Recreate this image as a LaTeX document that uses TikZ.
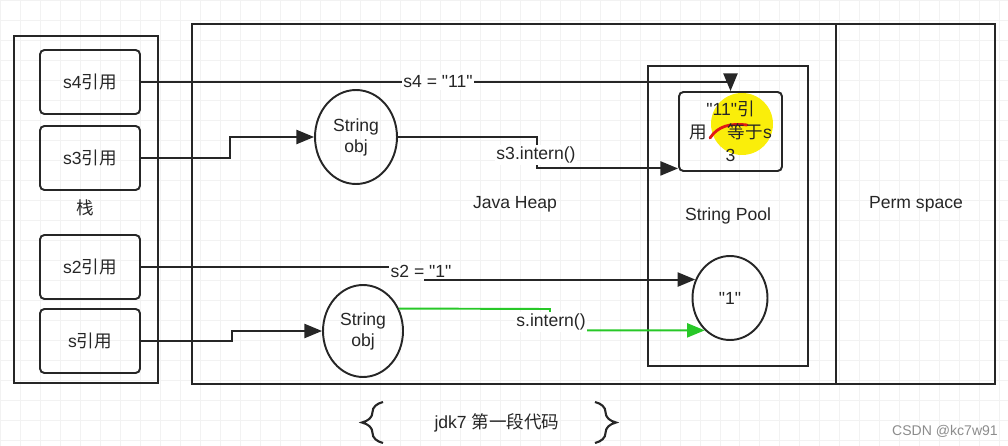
\documentclass[tikz,border=0pt]{standalone}
\usepackage{fontspec}
\setmainfont{Liberation Sans}[Ligatures=TeXOff]
\newfontfamily\cjk{Noto Sans CJK SC}
\usetikzlibrary{arrows.meta,shapes.geometric,decorations.pathreplacing}
\definecolor{hl}{RGB}{250,238,10}
\definecolor{pen}{RGB}{225,25,20}
\definecolor{grn}{RGB}{40,200,40}

\begin{document}
\begin{tikzpicture}[x=0.02cm, y=-0.02cm, line width=1.1pt, color=black!85,
    font=\fontsize{10}{12}\selectfont,
    cell/.style={draw, rounded corners=2.5pt, minimum width=2cm, minimum height=1.28cm},
    obj/.style={draw, ellipse, align=center, inner sep=0pt},
    arr/.style={-{Triangle[length=10pt,width=8pt]}},
    lbl/.style={fill=white, inner sep=1pt}]
			%%%%% START %%%%%
			\useasboundingbox (0,0) rectangle (1008,446);
			\draw[black!5, line width=0.4pt, step=0.4cm] (0,0) grid (1008,446);
			
			% stack, heap, perm space, pool
			\draw[line width=1.3pt] (14,36) rectangle (158,383);
			\draw (192,24) rectangle (836,384);
			\draw (836,24) rectangle (995,384);
			\draw (648,66) rectangle (808,366);
			
			\node (stk) at (85,208) {\cjk 栈};
			\node (heap) at (515,204) {Java Heap};
			\node (pool) at (728,216) {String Pool};
			\node (perm) at (916,204) {Perm space};
			
			\node[cell] (r4) at (90,82) {s4{\cjk 引用}};
			\node[cell] (r3) at (90,158) {s3{\cjk 引用}};
			\node[cell] (r2) at (90,267) {s2{\cjk 引用}};
			\node[cell] (r1) at (90,341) {s{\cjk 引用}};
			
			\node[obj, minimum width=1.64cm, minimum height=1.88cm] (obj3) at (356,137) {String\\obj};
			\node[obj, minimum width=1.6cm, minimum height=1.84cm] (objs) at (363,331) {String\\obj};
			
			% highlight on the pool entry
			\fill[hl] (742,124) circle (31);
			\draw[pen, line width=1.6pt, line cap=round] (710,138) .. controls (718,126) and (730,123) .. (747,125);
			
			\node[cell, minimum width=2.06cm, minimum height=1.58cm, align=center, inner sep=1pt] (p11) at (730.5,131.5) {"11"{\cjk 引}\\[1pt]{\cjk 用}\hspace{1.2em}{\cjk 等于}s\\[1pt]3};
			\node[obj, minimum width=1.5cm, minimum height=1.68cm] (one) at (730,298) {"1"};
			
			% references
			\draw[arr] (r4.east) -| (p11.north);
			\node[lbl] (l4) at (438,82) {s4 = "11"};
			
			\draw[arr] (r3.east) -- (230,158) |- (obj3.west);
			\draw[arr] (obj3.east) -- (537,137) |- ([yshift=2pt]p11.south west);
			\node[lbl] (l3) at (536,155) {s3.intern()};
			
			\draw[arr] (r2.east) -- (425,267) |- (one.152);
			\node[lbl] (l2) at (421,271) {s2 = "1"};
			
			\draw[arr] (r1.east) -- (232,341) |- (objs.west);
			\draw[arr, grn] (objs.32) -- (550,309) |- (one.232);
			\node[lbl] (ls) at (551,322) {s.intern()};
			
			% caption
			\draw[decorate, decoration={brace, amplitude=12pt}, line width=1.2pt] (383,443) -- (383,402);
			\draw[decorate, decoration={brace, amplitude=12pt}, line width=1.2pt] (595,402) -- (595,443);
			\node (cap) at (497,423) {jdk7 {\cjk 第一段代码}};
			
			\node[black!45, font=\fontsize{8}{9}\selectfont] (wm) at (945,431) {CSDN @kc7w91};
			%%%%% END %%%%%
\end{tikzpicture}
\end{document}
